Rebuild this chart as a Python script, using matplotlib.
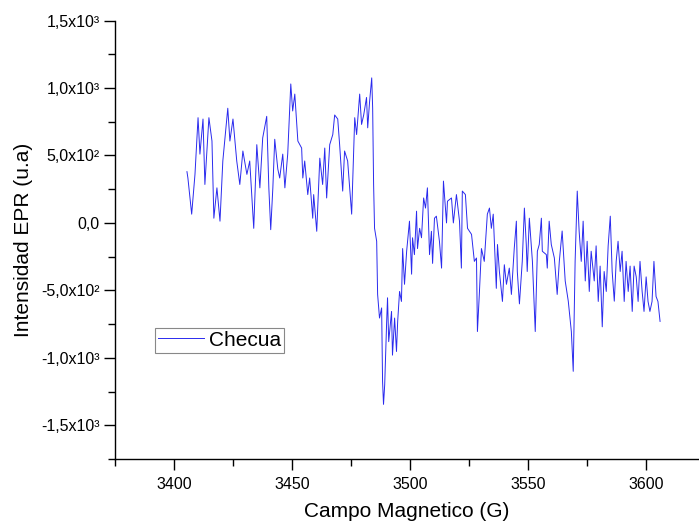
import matplotlib
matplotlib.use('Agg')
import matplotlib.pyplot as plt
from matplotlib.ticker import MultipleLocator, FixedLocator

plt.rcParams['font.family'] = ['Liberation Sans', 'DejaVu Sans']

# EPR trace (field in G, intensity in a.u.)
field = [
    3405.5, 3405.9, 3406.7, 3407.5, 3408.9, 3410.2, 3411.0, 3412.3, 3413.1, 3414.8,
    3416.1, 3416.9, 3418.2, 3419.5, 3420.7, 3422.8, 3423.7, 3425.0, 3426.6, 3427.9,
    3429.2, 3430.9, 3432.1, 3433.8, 3435.1, 3436.4, 3437.6, 3439.3, 3440.2, 3441.0,
    3441.9, 3442.7, 3444.0, 3444.8, 3446.1, 3447.0, 3448.2, 3449.5, 3450.3, 3451.2,
    3452.5, 3454.1, 3454.6, 3455.4, 3456.7, 3457.5, 3458.8, 3459.2, 3460.5, 3461.8,
    3463.0, 3463.9, 3464.7, 3466.0, 3467.3, 3468.1, 3469.4, 3470.2, 3471.5, 3472.3,
    3473.6, 3475.3, 3476.6, 3477.4, 3478.7, 3479.5, 3480.4, 3481.6, 3482.1, 3482.9,
    3483.8, 3484.2, 3484.6, 3485.0, 3485.9, 3486.3, 3487.1, 3488.0, 3488.4, 3488.8,
    3489.3, 3490.1, 3490.5, 3491.0, 3492.2, 3492.6, 3493.5, 3494.3, 3494.8, 3495.6,
    3496.4, 3496.9, 3497.7, 3498.6, 3499.0, 3499.8, 3500.7, 3501.1, 3501.9, 3502.8,
    3503.2, 3504.1, 3504.9, 3505.8, 3506.6, 3507.4, 3508.3, 3509.1, 3509.6, 3510.4,
    3511.2, 3512.5, 3513.4, 3514.2, 3515.5, 3515.9, 3517.6, 3518.4, 3519.7, 3521.0,
    3521.8, 3522.2, 3523.5, 3524.4, 3526.1, 3527.3, 3528.2, 3528.6, 3529.4, 3530.3,
    3531.5, 3532.8, 3533.7, 3534.5, 3535.3, 3536.6, 3537.1, 3537.9, 3539.2, 3540.0,
    3540.9, 3542.1, 3543.0, 3544.2, 3545.1, 3545.5, 3546.4, 3547.6, 3548.5, 3549.3,
    3549.7, 3550.6, 3551.9, 3553.1, 3554.0, 3554.8, 3555.7, 3556.1, 3557.8, 3558.2,
    3559.0, 3559.9, 3561.2, 3562.4, 3563.3, 3564.5, 3565.8, 3567.1, 3568.4, 3569.2,
    3570.0, 3570.9, 3571.7, 3572.6, 3573.4, 3574.3, 3575.1, 3576.0, 3576.8, 3578.1,
    3578.9, 3579.8, 3580.6, 3581.5, 3582.3, 3583.2, 3584.0, 3584.9, 3585.7, 3586.6,
    3587.4, 3588.2, 3589.1, 3589.9, 3590.8, 3591.6, 3592.5, 3593.3, 3594.2, 3595.0,
    3595.9, 3596.7, 3597.5, 3598.4, 3599.2, 3600.1, 3600.9, 3601.7, 3602.6, 3603.4,
    3604.3, 3605.1, 3606.0,
]
intensity = [
    380, 333, 200, 65, 360, 780, 510, 770, 285, 780,
    607, 35, 260, 13, 459, 850, 607, 770, 459, 285,
    533, 360, 459, -40, 580, 260, 630, 790, 260, -50,
    260, 620, 400, 333, 510, 260, 510, 1030, 830, 955,
    607, 555, 333, 459, 210, 333, 35, 210, -62, 480,
    285, 555, 185, 580, 655, 800, 770, 580, 236, 533,
    459, 65, 780, 655, 955, 730, 800, 930, 705, 900,
    1075, 850, 285, -40, -136, -530, -705, -630, -1176, -1345,
    -1200, -750, -555, -880, -656, -980, -705, -953, -730, -508,
    -582, -190, -455, -210, -136, 13, -380, -110, -235, 87,
    -190, -40, -110, 185, 110, 260, -235, -62, -300, 35,
    50, -136, -335, 310, 0, 161, 185, 0, 210, 13,
    -335, 236, 210, -40, -85, -285, -260, -805, -530, -190,
    -285, 65, 110, -40, 65, -485, -160, -360, -582, -310,
    -455, -335, -530, -190, 13, -360, -600, -285, 110, -160,
    -360, 35, -285, -805, -210, -160, 35, -210, -235, -335,
    13, -160, -260, -530, -285, -60, -430, -580, -805, -1100,
    -285, 236, -60, -285, 13, -430, -136, -508, -210, -430,
    -170, -582, -320, -770, -360, -508, -170, 50, -360, -580,
    -285, -136, -360, -210, -582, -285, -508, -320, -656, -320,
    -400, -582, -285, -508, -656, -400, -582, -656, -582, -285,
    -545, -582, -730,
]

series_name = 'Checua'
x_ticks = [3400, 3450, 3500, 3550, 3600]
y_ticks = [-1500, -1000, -500, 0, 500, 1000, 1500]
y_tick_labels = ['-1,5x10³', '-1,0x10³', '-5,0x10²', '0,0', '5,0x10²', '1,0x10³', '1,5x10³']

fig = plt.figure(figsize=(6.99, 5.27), dpi=100)
ax = fig.add_axes([0.1645, 0.129, 0.8355, 0.832])

ax.plot(field, intensity, color='#2a2aee', lw=0.7, label=series_name)

ax.set_xlim(3375, 3622.5)
ax.set_ylim(-1750, 1500)

ax.xaxis.set_major_locator(FixedLocator(x_ticks))
ax.xaxis.set_minor_locator(MultipleLocator(25))
ax.yaxis.set_major_locator(FixedLocator(y_ticks))
ax.set_yticklabels(y_tick_labels)
ax.yaxis.set_minor_locator(MultipleLocator(250))

for side in ('top', 'right'):
    ax.spines[side].set_visible(False)
for side in ('left', 'bottom'):
    ax.spines[side].set_linewidth(1.0)

ax.tick_params(which='major', direction='out', length=8, width=1.0, labelsize=11.5, pad=3)
ax.tick_params(axis='x', which='major', pad=5)
ax.tick_params(which='minor', direction='out', length=5, width=1.0)

ax.set_xlabel('Campo Magnetico (G)', fontsize=15, labelpad=7)
ax.set_ylabel('Intensidad EPR (u.a)', fontsize=15, labelpad=6)

leg = ax.legend(loc='lower left', bbox_to_anchor=(0.0685, 0.242), borderaxespad=0,
                fancybox=False, edgecolor='#888888', framealpha=1, fontsize=15,
                handlelength=2.2, handletextpad=0.25, borderpad=0.15)
leg.get_frame().set_linewidth(0.8)

fig.savefig('out.png', dpi=100)
